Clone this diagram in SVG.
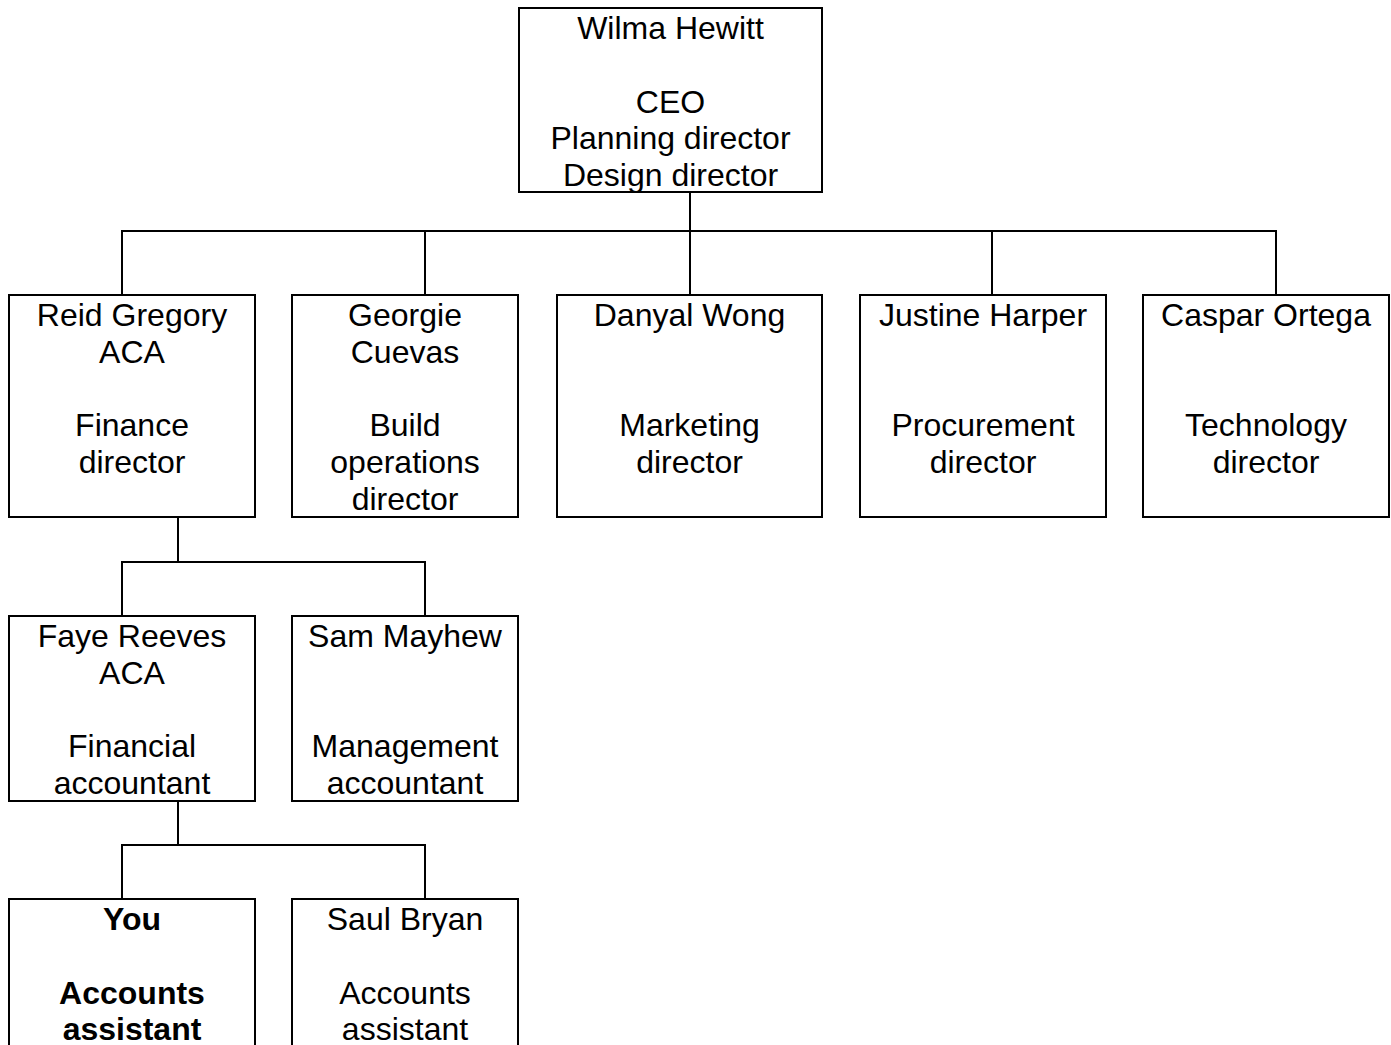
<svg xmlns="http://www.w3.org/2000/svg" width="1391" height="1045" viewBox="0 0 1391 1045">
<style>
.box{fill:#fff;stroke:#000;stroke-width:2}
.t{font-family:"Liberation Sans",Arial,sans-serif;font-size:32px;fill:#000;text-anchor:middle}
.b{font-weight:bold}
.c{fill:none;stroke:#000;stroke-width:2}
</style>
<rect width="1391" height="1045" fill="#fff"/>
<g id="connectors">
<path class="c" d="M690,192V231M122,295V231H1276V295M425,231V295M690,231V295M992,231V295"/>
<path class="c" d="M178,517V562M122,616V562H425V616"/>
<path class="c" d="M178,801V845M122,899V845H425V899"/>
</g>
<g id="wilma">
<rect class="box" x="519" y="8" width="303" height="184"/>
<text class="t" x="670.5" y="39">Wilma Hewitt</text>
<text class="t" x="670.5" y="112.6">CEO</text>
<text class="t" x="670.5" y="149.4">Planning director</text>
<text class="t" x="670.5" y="186.2">Design director</text>
</g>
<g id="reid">
<rect class="box" x="9" y="295" width="246" height="222"/>
<text class="t" x="132" y="326">Reid Gregory</text>
<text class="t" x="132" y="362.8">ACA</text>
<text class="t" x="132" y="436.4">Finance</text>
<text class="t" x="132" y="473.2">director</text>
</g>
<g id="georgie">
<rect class="box" x="292" y="295" width="226" height="222"/>
<text class="t" x="405" y="326">Georgie</text>
<text class="t" x="405" y="362.8">Cuevas</text>
<text class="t" x="405" y="436.4">Build</text>
<text class="t" x="405" y="473.2">operations</text>
<text class="t" x="405" y="510">director</text>
</g>
<g id="danyal">
<rect class="box" x="557" y="295" width="265" height="222"/>
<text class="t" x="689.5" y="326">Danyal Wong</text>
<text class="t" x="689.5" y="436.4">Marketing</text>
<text class="t" x="689.5" y="473.2">director</text>
</g>
<g id="justine">
<rect class="box" x="860" y="295" width="246" height="222"/>
<text class="t" x="983" y="326">Justine Harper</text>
<text class="t" x="983" y="436.4">Procurement</text>
<text class="t" x="983" y="473.2">director</text>
</g>
<g id="caspar">
<rect class="box" x="1143" y="295" width="246" height="222"/>
<text class="t" x="1266" y="326">Caspar Ortega</text>
<text class="t" x="1266" y="436.4">Technology</text>
<text class="t" x="1266" y="473.2">director</text>
</g>
<g id="faye">
<rect class="box" x="9" y="616" width="246" height="185"/>
<text class="t" x="132" y="647">Faye Reeves</text>
<text class="t" x="132" y="683.8">ACA</text>
<text class="t" x="132" y="757.4">Financial</text>
<text class="t" x="132" y="794.2">accountant</text>
</g>
<g id="sam">
<rect class="box" x="292" y="616" width="226" height="185"/>
<text class="t" x="405" y="647">Sam Mayhew</text>
<text class="t" x="405" y="757.4">Management</text>
<text class="t" x="405" y="794.2">accountant</text>
</g>
<g id="you">
<rect class="box" x="9" y="899" width="246" height="200"/>
<text class="t b" x="132" y="930">You</text>
<text class="t b" x="132" y="1004">Accounts</text>
<text class="t b" x="132" y="1040">assistant</text>
</g>
<g id="saul">
<rect class="box" x="292" y="899" width="226" height="200"/>
<text class="t" x="405" y="930">Saul Bryan</text>
<text class="t" x="405" y="1004">Accounts</text>
<text class="t" x="405" y="1040">assistant</text>
</g>
</svg>
